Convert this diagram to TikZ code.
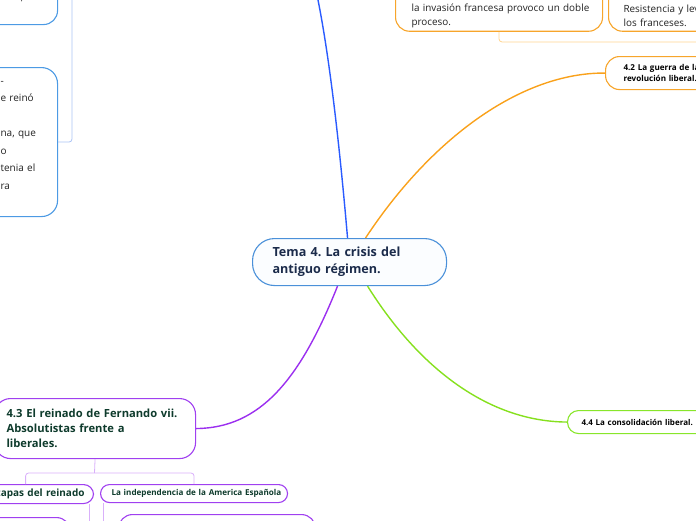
\documentclass[tikz,border=0pt]{standalone}
\usepackage{fontspec}
\setmainfont{Open Sans}
\definecolor{cenB}{HTML}{4A90D9}
\definecolor{cenF}{HTML}{FBFDFF}
\definecolor{cenT}{HTML}{1B2B4B}
\definecolor{blueLine}{HTML}{2A5BFF}
\definecolor{orB}{HTML}{F7A52B}
\definecolor{orLine}{HTML}{F9A11B}
\definecolor{orBr}{HTML}{FFD591}
\definecolor{purB}{HTML}{A040F0}
\definecolor{purLine}{HTML}{9B2FEF}
\definecolor{purBr}{HTML}{D9B0FA}
\definecolor{grB}{HTML}{88E62A}
\definecolor{grLine}{HTML}{86E01E}
\definecolor{bluB}{HTML}{4C9AE4}
\definecolor{bluBr}{HTML}{ABC3F5}
\definecolor{dgreen}{HTML}{0E3B2C}
\definecolor{txt}{HTML}{222222}
\frenchspacing
\begin{document}
\begin{tikzpicture}[x=1pt,y=-1pt,
  box/.style={draw, rounded corners=#1, fill=white, align=left, anchor=north west, line width=1.1pt},
  box/.default=14,
  curve/.style={line width=1.4pt},
  brk/.style={line width=0.8pt, rounded corners=3}]
\useasboundingbox (0,0) rectangle (696,520);
\clip (0,0) rectangle (696,520);
% central
\node[box=22, draw=cenB, fill=cenF, text=cenT, text width=154pt, inner xsep=20pt, minimum height=47pt, font=\fontsize{12.6}{17}\selectfont\bfseries] (c) at (252,238) {Tema 4. La crisis del\\antiguo régimen.};
% top-left blue boxes
\node[box=14, draw=bluB, minimum width=100pt, minimum height=64pt] (bA) at (-43,-40) {};
\node[anchor=base, text=txt, font=\fontsize{10}{12}\selectfont, inner sep=0pt] (frag) at (22,0.3) {,};
\node[box=16, draw=bluB, text=txt, text width=40pt, inner xsep=17pt, minimum height=149pt, font=\fontsize{10}{17.5}\selectfont] (bB) at (-17,67) {\rule{0pt}{7.3pt}-\\e reinó\\\mbox{}\\na, que\\o\\tenia el\\ra\\\mbox{}};
\coordinate (bt) at (72,-5);
\draw[brk, bluBr] (bB.east) -| (bt);
% top orange boxes
\node[box=14, draw=orB, text=txt, text width=175pt, inner xsep=16pt, minimum height=61.4pt, font=\fontsize{9.9}{14}\selectfont] (o1) at (395,-30.7) {\rule{0pt}{9.4pt}\\\mbox{}\\\mbox{la invasión francesa provoco un doble}\\proceso.};
\node[box=14, draw=orB, text=txt, text width=120pt, inner xsep=15pt, minimum height=61.4pt, font=\fontsize{9.9}{14}\selectfont] (o2) at (608,-30.7) {\rule{0pt}{9.4pt}\\\mbox{}\\Resistencia y lev\\los franceses.};
\coordinate (ort) at (700,42);
\draw[brk, orBr] (o1.south) |- (ort);
% 4.2
\node[box=14, draw=orB, text=black, text width=100pt, inner xsep=18pt, minimum height=33pt, font=\fontsize{8.1}{11}\selectfont\bfseries] (n42) at (605,56) {4.2 La guerra de la\\revolución liberal.};
% 4.4
\node[box=11, draw=grB, text=black, text width=130pt, inner xsep=14pt, minimum height=23pt, font=\fontsize{8}{10}\selectfont\bfseries] (n44) at (567,410) {\mbox{4.4 La consolidación liberal.}};
% 4.3
\node[box=16, draw=purB, text=dgreen, text width=177pt, inner xsep=12pt, minimum height=60pt, font=\fontsize{11.2}{15}\selectfont\bfseries] (n43) at (-6,398) {\mbox{4.3 El reinado de Fernando vii.}\\Absolutistas frente a\\liberales.};
\node[box=10, draw=purB, text=dgreen, text width=92.7pt, inner xsep=10pt, minimum height=19pt, font=\fontsize{10}{12}\selectfont\bfseries] (et) at (-19.7,484) {\mbox{Etapas del reinado}};
\node[box=9, draw=purB, text=dgreen, text width=165pt, inner xsep=11pt, minimum height=18pt, font=\fontsize{8.1}{10}\selectfont\bfseries] (ind) at (100,484) {\mbox{La independencia de la America Española}};
\node[box=14, draw=purB, minimum width=110pt, minimum height=60pt] (g1) at (-40,517) {};
\node[box=14, draw=purB, minimum width=197pt, minimum height=60pt] (g2) at (118,514) {};
\coordinate (pj) at (94.5,473);
\draw[brk, purBr] (n43.south) -- (pj);
\draw[brk, purBr] ([xshift=-11.6pt]et.north) |- (pj) -| (ind.north);
\coordinate (ev) at (89,530);
\coordinate (iv) at (103,530);
\draw[brk, purBr] (et.south -| ev) -- (ev);
\draw[brk, purBr] (ind.south -| iv) -- (iv);
% main curves
\coordinate (topb) at (318,0);
\draw[curve, blueLine] ([xshift=-2pt]c.north) .. controls (340,150) and (330,60) .. (topb);
\draw[curve, orLine] ([xshift=16pt]c.north) .. controls (430,140) and (520,72.5) .. (n42.west);
\draw[curve, purLine] ([xshift=-12pt]c.south) .. controls (300,380) and (260,428) .. (n43.east);
\draw[curve, grLine] ([xshift=18pt]c.south) .. controls (420,370) and (490,421.5) .. (n44.west);
\end{tikzpicture}
\end{document}
